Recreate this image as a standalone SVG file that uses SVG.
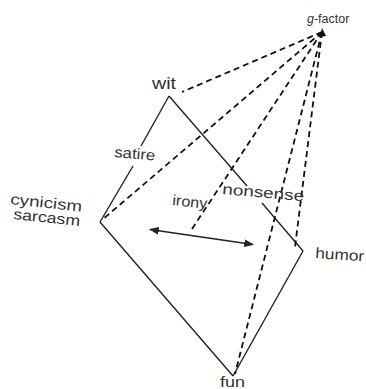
<svg xmlns="http://www.w3.org/2000/svg" width="366" height="389" viewBox="0 0 366 389">
<defs>
<style>
.edge{stroke:#222;stroke-width:1.4;fill:none}
.dash{stroke:#111;stroke-width:1.8;fill:none;stroke-dasharray:6 4}
.lbl{font-family:"Liberation Sans",Arial,sans-serif;font-size:15px;fill:#333}
</style>
<marker id="ah" viewBox="0 0 10 10" refX="9" refY="5" markerWidth="7" markerHeight="7" orient="auto-start-reverse">
<path d="M0,1 L10,5 L0,9 Z" fill="#222"/>
</marker>
</defs>
<rect width="366" height="389" fill="#fff"/>
<g id="connectors">
<path class="edge" d="M169,96 L141,146"/>
<path class="edge" d="M133,166 L100,222"/>
<path class="edge" d="M169,96 L247,186"/>
<path class="edge" d="M262,203 L303,251"/>
<path class="edge" d="M100,222 L233,376"/>
<path class="edge" d="M303,251 L233,376"/>
<path class="dash" d="M322,32 L182,92"/>
<path class="dash" d="M322,32 L102,220"/>
<path class="dash" d="M322,32 L190,232"/>
<path class="dash" d="M322,32 L295,247"/>
<path class="dash" d="M322,32 L235,374"/>
<path class="edge" d="M150,229.5 L253,244.5" marker-start="url(#ah)" marker-end="url(#ah)"/>
</g>
<g id="g-factor">
<path d="M322,28 L326,36 L320,37 Z" fill="#111"/>
<text class="lbl" x="307" y="23" style="font-size:12.5px"><tspan font-style="italic">g</tspan>-factor</text>
</g>
<g id="wit">
<text class="lbl" x="152" y="89" style="font-size:17px" textLength="24" lengthAdjust="spacingAndGlyphs">wit</text>
</g>
<g id="satire">
<text class="lbl" x="114" y="157" transform="rotate(5 114 157)" textLength="41" lengthAdjust="spacingAndGlyphs">satire</text>
</g>
<g id="cynicism-sarcasm">
<text class="lbl" x="10" y="204" transform="rotate(6 10 204)" textLength="72" lengthAdjust="spacingAndGlyphs">cynicism</text>
<text class="lbl" x="13" y="219" transform="rotate(6 13 219)" textLength="67" lengthAdjust="spacingAndGlyphs">sarcasm</text>
</g>
<g id="irony">
<text class="lbl" x="172" y="205" transform="rotate(6 172 205)" textLength="35" lengthAdjust="spacingAndGlyphs">irony</text>
</g>
<g id="nonsense">
<text class="lbl" x="222" y="194" transform="rotate(5 222 194)" textLength="82" lengthAdjust="spacingAndGlyphs">nonsense</text>
</g>
<g id="humor">
<text class="lbl" x="315" y="258" transform="rotate(4 315 258)" textLength="49" lengthAdjust="spacingAndGlyphs">humor</text>
</g>
<g id="fun">
<text class="lbl" x="220" y="387" style="font-size:14px" textLength="25" lengthAdjust="spacingAndGlyphs">fun</text>
</g>
</svg>
